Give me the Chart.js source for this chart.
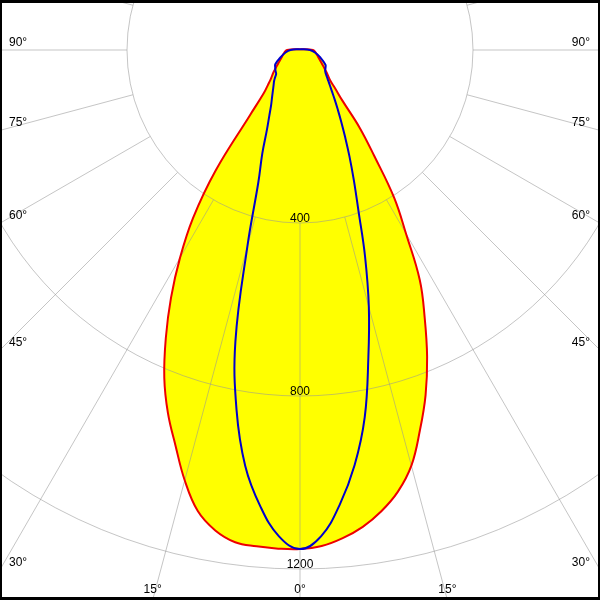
<!DOCTYPE html>
<html>
<head>
<meta charset="utf-8">
<script src="https://cdn.jsdelivr.net/npm/chart.js@4.4.0/dist/chart.umd.min.js"></script>
<style>
html,body{margin:0;padding:0;background:#ffffff;}
#wrap{width:600px;height:600px;position:relative;}
canvas{display:block;}
</style>
</head>
<body>
<div id="wrap"><canvas id="c" width="600" height="600"></canvas></div>
<script>
// Polar angles (degrees from nadir) and luminous intensities (cd) per C-plane
const angles    = [0, 2.5, 5, 7.5, 10, 12.5, 15, 17.5, 20, 22.5, 25, 27.5, 30, 32.5, 35, 37.5, 40, 42.5, 45, 50, 55, 60, 70, 80, 90, 180];
const redC0     = [1154, 1148, 1133, 1112, 1083, 1046, 995, 922, 849, 768, 682, 600, 490, 405, 300, 227, 152, 120, 98, 80, 66, 56, 44, 37, 30, 2];
const redC180   = [1154, 1154, 1152, 1148, 1128, 1092, 1030, 958, 893, 820, 734, 646, 555, 460, 340, 190, 130, 110, 96, 80, 66, 56, 44, 37, 30, 2];
const blueC90   = [1154, 1125, 1055, 968, 862, 730, 615, 500, 395, 325, 270, 225, 190, 162, 140, 122, 108, 97, 88, 76, 72, 68, 50, 36, 23, 2];
const blueC270  = [1154, 1125, 1058, 970, 845, 690, 470, 320, 255, 200, 168, 145, 130, 118, 108, 100, 93, 85, 78, 74, 70, 66, 47, 34, 22, 2];

// Grid: intensity rings and spoke angles
const ringValues = [400, 800, 1200];
const ringLabels = ['400', '800', '1200'];
const spokeAngles = [0, 15, 30, 45, 60, 75, 90, 105, 120, 135, 150, 165, 180, 195, 210, 225, 240, 255, 270, 285, 300, 315, 330, 345];
const angleTickValues = [0, 15, 30, 45, 60, 75, 90];
const angleTickLabels = ['0°', '15°', '30°', '45°', '60°', '75°', '90°'];

// view setup (pixels per candela, centre position)
const PX_PER_CD = 173 / 400;
const X_HALF = 300 / PX_PER_CD;
const Y_TOP = 50 / PX_PER_CD;
const Y_BOTTOM = Y_TOP - 600 / PX_PER_CD;

// left half-plane (leftVals) then right half-plane (rightVals)
function toPolarPoints(ang, leftVals, rightVals) {
  const pts = [];
  for (let i = ang.length - 1; i >= 0; i--) {
    const t = ang[i] * Math.PI / 180;
    pts.push({x: -leftVals[i] * Math.sin(t), y: -leftVals[i] * Math.cos(t)});
  }
  for (let i = 1; i < ang.length; i++) {
    const t = ang[i] * Math.PI / 180;
    pts.push({x: rightVals[i] * Math.sin(t), y: -rightVals[i] * Math.cos(t)});
  }
  return pts;
}

const FONT = '12px "Liberation Sans", Arial, sans-serif';
const GRID = 'rgba(150,150,150,0.55)';

const polarPlugin = {
  id: 'polarGrid',
  beforeDatasetsDraw(chart) {
    const ctx = chart.ctx;
    const xs = chart.scales.x, ys = chart.scales.y;
    // shape fills (yellow) following the library's own smoothed line paths
    ctx.save();
    ctx.fillStyle = '#ffff00';
    chart.data.datasets.forEach((ds, i) => {
      const meta = chart.getDatasetMeta(i);
      if (meta.dataset && meta.dataset.updateControlPoints) meta.dataset.updateControlPoints(chart.chartArea, 'x');
      const pts = meta.data;
      ctx.beginPath();
      pts.forEach((el, j) => {
        if (j === 0) { ctx.moveTo(el.x, el.y); return; }
        const p = pts[j - 1];
        if (p.cp2x !== undefined && el.cp1x !== undefined) ctx.bezierCurveTo(p.cp2x, p.cp2y, el.cp1x, el.cp1y, el.x, el.y);
        else ctx.lineTo(el.x, el.y);
      });
      ctx.closePath();
      ctx.fill();
    });
    ctx.restore();
    // grid
    const cx = xs.getPixelForValue(0), cy = ys.getPixelForValue(0);
    ctx.save();
    ctx.strokeStyle = GRID;
    ctx.lineWidth = 1;
    ringValues.forEach(v => {
      const r = xs.getPixelForValue(v) - cx;
      ctx.beginPath();
      ctx.arc(cx, cy, r, 0, Math.PI * 2);
      ctx.stroke();
    });
    const r0 = ringValues[0];
    spokeAngles.forEach(a => {
      const t = a * Math.PI / 180;
      const x0 = xs.getPixelForValue(r0 * Math.sin(t)), y0 = ys.getPixelForValue(-r0 * Math.cos(t));
      const x1 = xs.getPixelForValue(4000 * Math.sin(t)), y1 = ys.getPixelForValue(-4000 * Math.cos(t));
      ctx.beginPath();
      ctx.moveTo(x0, y0);
      ctx.lineTo(x1, y1);
      ctx.stroke();
    });
    ctx.restore();
  },
  afterDatasetsDraw(chart) {
    const ctx = chart.ctx;
    const xs = chart.scales.x, ys = chart.scales.y;
    const area = chart.chartArea;
    const cx = xs.getPixelForValue(0), cy = ys.getPixelForValue(0);
    ctx.save();
    ctx.fillStyle = '#000';
    ctx.font = FONT;
    ctx.textBaseline = 'alphabetic';
    ctx.textAlign = 'center';
    ringValues.forEach((v, i) => {
      ctx.fillText(ringLabels[i], cx, ys.getPixelForValue(-v) - 1);
    });
    angleTickValues.forEach((a, i) => {
      const sides = a === 0 ? [1] : [-1, 1];
      sides.forEach(side => {
        const t = a * Math.PI / 180;
        const dx = side * Math.sin(t), dy = Math.cos(t);
        let tX = Infinity, tY = Infinity;
        if (Math.abs(dx) > 1e-9) tX = dx > 0 ? (area.right - cx) / dx : (cx - area.left) / -dx;
        if (dy > 1e-9) tY = (area.bottom - cy) / dy;
        if (tX < tY) {
          const ey = cy + dy * tX;
          if (side < 0) { ctx.textAlign = 'left'; ctx.fillText(angleTickLabels[i], area.left + 9, ey - 4); }
          else { ctx.textAlign = 'right'; ctx.fillText(angleTickLabels[i], area.right - 10, ey - 4); }
        } else {
          const ex = cx + dx * tY;
          ctx.textAlign = 'center';
          ctx.fillText(angleTickLabels[i], ex, area.bottom - 7);
        }
      });
    });
    ctx.restore();
  },
  afterDraw(chart) {
    const ctx = chart.ctx;
    const w = chart.width, h = chart.height;
    ctx.save();
    ctx.fillStyle = '#000';
    ctx.fillRect(0, 0, w, 3);
    ctx.fillRect(0, 0, 2, h);
    ctx.fillRect(0, h - 3, w, 3);
    ctx.fillRect(w - 2, 0, 2, h);
    ctx.restore();
  }
};

new Chart(document.getElementById('c'), {
  type: 'scatter',
  data: {
    datasets: [
      { label: 'C0 - C180', data: toPolarPoints(angles, redC180, redC0), showLine: true, fill: false,
        borderColor: '#ee0000', borderWidth: 2, pointRadius: 0, tension: 0.4, order: 2 },
      { label: 'C90 - C270', data: toPolarPoints(angles, blueC270, blueC90), showLine: true, fill: false,
        borderColor: '#0000cc', borderWidth: 2, pointRadius: 0, tension: 0.4, order: 1 }
    ]
  },
  options: {
    responsive: false,
    maintainAspectRatio: false,
    devicePixelRatio: 1,
    animation: false,
    layout: { padding: 0 },
    scales: {
      x: { type: 'linear', min: -X_HALF, max: X_HALF, display: false },
      y: { type: 'linear', min: Y_BOTTOM, max: Y_TOP, display: false }
    },
    plugins: { legend: { display: false }, tooltip: { enabled: false }, title: { display: false } }
  },
  plugins: [polarPlugin]
});
</script>
</body>
</html>
